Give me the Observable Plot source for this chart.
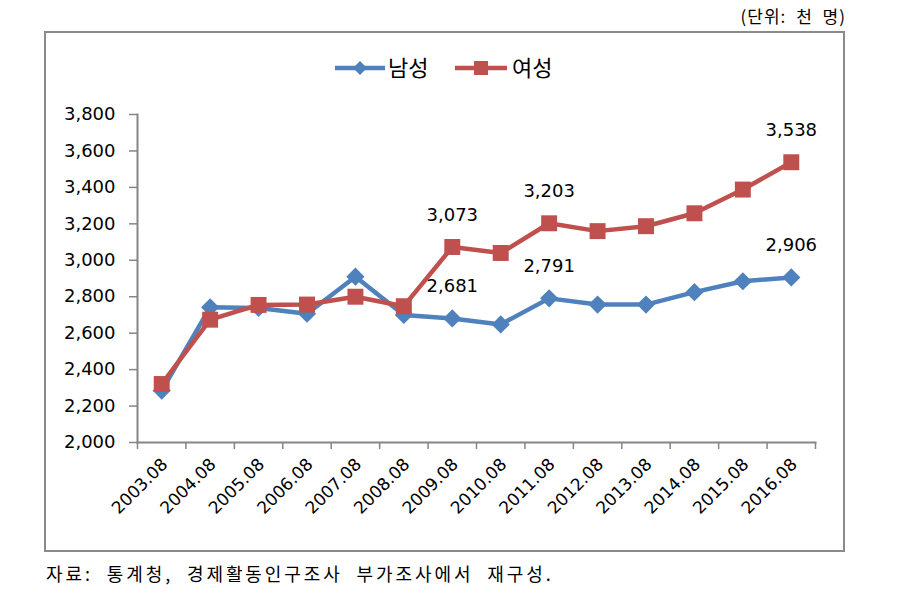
<!DOCTYPE html>
<html>
<head>
<meta charset="utf-8">
<script src="https://cdn.jsdelivr.net/npm/d3@7"></script>
<script src="https://cdn.jsdelivr.net/npm/@observablehq/plot@0.6"></script>
<style>
  body { margin: 0; background: #fff; }
  #wrap { position: relative; width: 913px; height: 595px; overflow: hidden; font-family: "Noto Sans CJK KR", sans-serif; }
  #frame { position: absolute; left: 44px; top: 31px; width: 797px; height: 517px; border: 2px solid #8a8a8a; box-sizing: content-box; }
  #chart { position: absolute; left: 0; top: 0; }
  #unit { position: absolute; right: 67px; top: 3px; font-size: 17px; line-height: 26px; color: #000; white-space: nowrap; letter-spacing: 1px; word-spacing: 5px; }
  #caption { position: absolute; left: 46px; top: 560px; font-size: 18px; line-height: 26px; color: #000; letter-spacing: 2.9px; word-spacing: 7px; white-space: nowrap; }
  #legend { position: absolute; left: 330px; top: 48px; overflow: visible; }
</style>
</head>
<body>
<div id="wrap">
  <div id="frame"></div>
  <div id="unit">(단위: 천 명)</div>
  <svg id="legend" width="240" height="40" font-family="Noto Sans CJK KR, sans-serif">
    <line x1="5" y1="20" x2="55" y2="20" stroke="#4F81BD" stroke-width="4.5"/>
    <path d="M30,13 L37,20 L30,27 L23,20 Z" fill="#4F81BD"/>
    <text x="58" y="20" dy="0.36em" font-size="22" fill="#000">남성</text>
    <line x1="125" y1="20" x2="177" y2="20" stroke="#C0504D" stroke-width="4.5"/>
    <rect x="144" y="13" width="14" height="14" fill="#C0504D"/>
    <text x="182" y="20" dy="0.36em" font-size="22" fill="#000">여성</text>
  </svg>
  <div id="chart"></div>
  <div id="caption">자료: 통계청, 경제활동인구조사 부가조사에서 재구성.</div>
</div>
<script>
const periods = ["2003.08","2004.08","2005.08","2006.08","2007.08","2008.08","2009.08","2010.08","2011.08","2012.08","2013.08","2014.08","2015.08","2016.08"];
const male   = [2285, 2742, 2738, 2707, 2910, 2700, 2681, 2648, 2791, 2757, 2757, 2825, 2885, 2906];
const female = [2321, 2674, 2755, 2757, 2800, 2748, 3073, 3040, 3203, 3160, 3187, 3258, 3388, 3538];
const yTicks = [2000, 2200, 2400, 2600, 2800, 3000, 3200, 3400, 3600, 3800];
const labeledPeriods = ["2009.08", "2011.08", "2016.08"];
const seriesNames = ["남성", "여성"];
const seriesColors = ["#4F81BD", "#C0504D"];

const n = periods.length;
const maleRows = periods.map((p, i) => ({i, period: p, value: male[i]}));
const femaleRows = periods.map((p, i) => ({i, period: p, value: female[i]}));
const fmt = d3.format(",");
const isLabeled = d => labeledPeriods.includes(d.period);

const chart = Plot.plot({
  width: 913,
  height: 595,
  marginLeft: 137,
  marginRight: 98,
  marginTop: 114,
  marginBottom: 153,
  style: {fontFamily: "DejaVu Sans, sans-serif", fontSize: "18px", background: "transparent", overflow: "visible"},
  x: {type: "linear", domain: [-0.5, n - 0.5], axis: null, label: null},
  y: {domain: [yTicks[0], yTicks[yTicks.length - 1]], axis: null, label: null},
  marks: [
    Plot.axisY({ticks: yTicks, tickSize: 8, tickPadding: 14, tickFormat: fmt, stroke: "#868686", strokeWidth: 1.5, fill: "#000", fontSize: 18, label: null}),
    Plot.axisX({ticks: d3.range(-0.5, n), tickSize: 7, tickFormat: () => "", stroke: "#868686", strokeWidth: 1.5, label: null}),
    Plot.axisX({ticks: d3.range(n), tickSize: 0, tickPadding: 19, tickRotate: -45, tickFormat: i => periods[i], fill: "#000", fontSize: 17, dx: 3, label: null}),
    Plot.frame({anchor: "left", stroke: "#868686", strokeWidth: 2}),
    Plot.frame({anchor: "bottom", stroke: "#868686", strokeWidth: 2}),
    Plot.line(maleRows, {x: "i", y: "value", stroke: seriesColors[0], strokeWidth: 4.5}),
    Plot.dot(maleRows, {x: "i", y: "value", symbol: "diamond2", r: 8.2, fill: seriesColors[0]}),
    Plot.line(femaleRows, {x: "i", y: "value", stroke: seriesColors[1], strokeWidth: 4.5}),
    Plot.dot(femaleRows, {x: "i", y: "value", symbol: "square", r: 9, fill: seriesColors[1]}),
    Plot.text(maleRows.filter(isLabeled), {x: "i", y: "value", text: d => fmt(d.value), dy: -32, fontSize: 18, fill: "#000"}),
    Plot.text(femaleRows.filter(isLabeled), {x: "i", y: "value", text: d => fmt(d.value), dy: -32, fontSize: 18, fill: "#000"})
  ]
});
document.getElementById("chart").appendChild(chart);
</script>
</body>
</html>
